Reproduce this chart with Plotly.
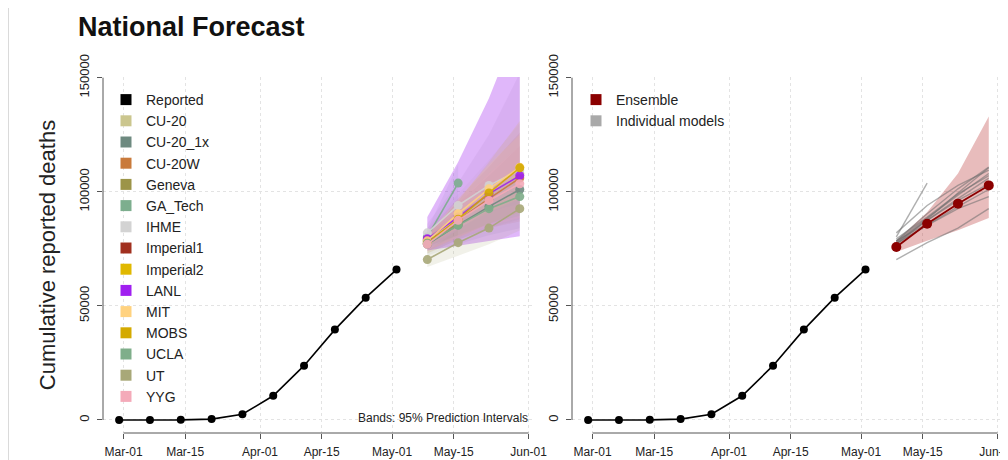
import plotly.graph_objects as go

# ---------------- data ----------------
REPORTED_DATES = ["2020-02-29", "2020-03-07", "2020-03-14", "2020-03-21", "2020-03-28",
                  "2020-04-04", "2020-04-11", "2020-04-18", "2020-04-25", "2020-05-02"]
REPORTED = [0, 20, 60, 400, 2500, 10600, 23800, 39600, 53600, 65900]

TARGET_DATES = ["2020-05-09", "2020-05-16", "2020-05-23", "2020-05-30"]

TICK_DATES = ["2020-03-01", "2020-03-15", "2020-04-01", "2020-04-15",
              "2020-05-01", "2020-05-15", "2020-06-01"]
TICK_LABELS = ["Mar-01", "Mar-15", "Apr-01", "Apr-15", "May-01", "May-15", "Jun-01"]
Y_TICKS = [0, 50000, 100000, 150000]

MODEL_NAMES = ["CU-20", "CU-20_1x", "CU-20W", "Geneva", "GA_Tech", "IHME", "Imperial1",
               "Imperial2", "LANL", "MIT", "MOBS", "UCLA", "UT", "YYG"]
MODEL_COLORS = ["#CBC68E", "#6E8A80", "#C97A3B", "#9C9448", "#7DAE8E", "#D3D3D3", "#A1301F",
                "#E0B800", "#A020F0", "#FFD27F", "#D4AA00", "#7FAE8A", "#A8A878", "#F4AAB9"]
BAND_ALPHA = [0.11, 0.09, 0.11, 0.11, 0.11, 0.25, 0.11, 0.11, 0.32, 0.15, 0.11, 0.13, 0.16, 0.15]

CU20_MED = [78500, 88500, 98500, 108000]
CU20_LO = [73000, 79000, 84000, 88000]
CU20_HI = [84000, 99000, 114000, 130000]

CU20_1X_MED = [77000, 85500, 93500, 101000]
CU20_1X_LO = [72000, 77000, 81000, 84000]
CU20_1X_HI = [82000, 95000, 107000, 120000]

CU20W_MED = [78000, 87500, 97000, 106000]
CU20W_LO = [73000, 79000, 84000, 87000]
CU20W_HI = [83000, 97000, 111000, 126000]

GENEVA_MED = [78500, 86000]
GENEVA_LO = [76000, 81000]
GENEVA_HI = [81000, 92000]

GATECH_MED = [80200, 103800]
GATECH_LO = [77000, 95000]
GATECH_HI = [83500, 112000]

IHME_MED = [82000, 94000, 102800, 109500]
IHME_LO = [79000, 86000, 91000, 95000]
IHME_HI = [86000, 104000, 125000, 152000]

IMPERIAL1_MED = [79000]
IMPERIAL1_LO = [75500]
IMPERIAL1_HI = [83000]

IMPERIAL2_MED = [78000]
IMPERIAL2_LO = [75000]
IMPERIAL2_HI = [82000]

LANL_MED = [79400, 88900, 99100, 107100]
LANL_LO = [74300, 76500, 78500, 80500]
LANL_HI = [89000, 113000, 141000, 175000]

MIT_MED = [78500, 90400, 101300, 110800]
MIT_LO = [76000, 84000, 91000, 97000]
MIT_HI = [81000, 97000, 112000, 125000]

MOBS_MED = [77500, 88000, 99500, 110500]
MOBS_LO = [74000, 80000, 86000, 91000]
MOBS_HI = [81000, 96000, 113000, 131000]

UCLA_MED = [77500, 85300, 92600, 97900]
UCLA_LO = [75000, 81000, 86000, 89500]
UCLA_HI = [80000, 90000, 99500, 107000]

UT_MED = [70300, 77700, 84100, 92600]
UT_LO = [67000, 72000, 77000, 83000]
UT_HI = [74000, 83500, 92000, 102000]

YYG_MED = [77000, 87500, 96200, 103500]
YYG_LO = [74000, 80000, 85000, 88500]
YYG_HI = [80500, 95000, 108000, 120000]

ENSEMBLE_MED = [75800, 86000, 94800, 102800]
ENSEMBLE_LO = [73600, 78500, 83200, 88500]
ENSEMBLE_HI = [78500, 91000, 108000, 133000]

MODEL_MED = [CU20_MED, CU20_1X_MED, CU20W_MED, GENEVA_MED, GATECH_MED, IHME_MED, IMPERIAL1_MED,
             IMPERIAL2_MED, LANL_MED, MIT_MED, MOBS_MED, UCLA_MED, UT_MED, YYG_MED]
MODEL_LO = [CU20_LO, CU20_1X_LO, CU20W_LO, GENEVA_LO, GATECH_LO, IHME_LO, IMPERIAL1_LO,
            IMPERIAL2_LO, LANL_LO, MIT_LO, MOBS_LO, UCLA_LO, UT_LO, YYG_LO]
MODEL_HI = [CU20_HI, CU20_1X_HI, CU20W_HI, GENEVA_HI, GATECH_HI, IHME_HI, IMPERIAL1_HI,
            IMPERIAL2_HI, LANL_HI, MIT_HI, MOBS_HI, UCLA_HI, UT_HI, YYG_HI]

ENSEMBLE_COLOR = "#8B0000"
INDIVIDUAL_COLOR = "#A9A9A9"

# ---------------- helpers ----------------
# page body has an 8px margin: the figure starts at (8, 8) of the window
OFF = 8
W, H = 1000, 452


def px_x(p):
    return (p - OFF) / W


def px_y(p):
    return (H - (p - OFF)) / H


def rgba(hex_color, a):
    h = hex_color.lstrip("#")
    r, g, b = int(h[0:2], 16), int(h[2:4], 16), int(h[4:6], 16)
    return f"rgba({r},{g},{b},{a})"


FONT = "Liberation Sans, Arial, sans-serif"
fig = go.Figure()

# ---------------- left panel ----------------
for name, col, a, med, lo, hi in zip(MODEL_NAMES, MODEL_COLORS, BAND_ALPHA, MODEL_MED, MODEL_LO, MODEL_HI):
    d = TARGET_DATES[:len(med)]
    if len(d) > 1:
        fig.add_trace(go.Scatter(
            x=d + d[::-1], y=hi + lo[::-1], fill="toself", fillcolor=rgba(col, a),
            line=dict(width=0), mode="lines", hoverinfo="skip", showlegend=False,
            legendgroup=name, xaxis="x", yaxis="y"))

for name, col, med in zip(MODEL_NAMES, MODEL_COLORS, MODEL_MED):
    d = TARGET_DATES[:len(med)]
    fig.add_trace(go.Scatter(
        x=d, y=med, mode="lines+markers", name=name, legendgroup=name, showlegend=False,
        line=dict(color=col, width=1.6), marker=dict(color=col, size=9), opacity=0.9,
        xaxis="x", yaxis="y"))

fig.add_trace(go.Scatter(
    x=REPORTED_DATES, y=REPORTED, mode="lines+markers", name="Reported", legendgroup="Reported",
    showlegend=False, line=dict(color="black", width=1.6), marker=dict(color="black", size=8),
    xaxis="x", yaxis="y"))

# legend entries (left)
fig.add_trace(go.Scatter(x=[None], y=[None], mode="markers", name="Reported", legendgroup="Reported",
                         marker=dict(symbol="square", size=11, color="black"),
                         legend="legend", xaxis="x", yaxis="y"))
for name, col in zip(MODEL_NAMES, MODEL_COLORS):
    fig.add_trace(go.Scatter(x=[None], y=[None], mode="markers", name=name, legendgroup=name,
                             marker=dict(symbol="square", size=11, color=col),
                             legend="legend", xaxis="x", yaxis="y"))

# ---------------- right panel ----------------
fig.add_trace(go.Scatter(
    x=TARGET_DATES + TARGET_DATES[::-1], y=ENSEMBLE_HI + ENSEMBLE_LO[::-1], fill="toself",
    fillcolor="rgba(178,34,34,0.30)", line=dict(width=0), mode="lines", hoverinfo="skip",
    showlegend=False, legendgroup="Ensemble", xaxis="x2", yaxis="y2"))

for name, med in zip(MODEL_NAMES, MODEL_MED):
    d = TARGET_DATES[:len(med)]
    fig.add_trace(go.Scatter(
        x=d, y=med, mode="lines", name=name, legendgroup="Individual models", showlegend=False,
        line=dict(color="rgba(110,110,110,0.55)", width=1.4), xaxis="x2", yaxis="y2"))

fig.add_trace(go.Scatter(
    x=REPORTED_DATES, y=REPORTED, mode="lines+markers", name="Reported", showlegend=False,
    line=dict(color="black", width=1.6), marker=dict(color="black", size=8),
    xaxis="x2", yaxis="y2"))

fig.add_trace(go.Scatter(
    x=TARGET_DATES, y=ENSEMBLE_MED, mode="lines+markers", name="Ensemble", legendgroup="Ensemble",
    showlegend=False, line=dict(color=ENSEMBLE_COLOR, width=1.8),
    marker=dict(color=ENSEMBLE_COLOR, size=10), xaxis="x2", yaxis="y2"))

fig.add_trace(go.Scatter(x=[None], y=[None], mode="markers", name="Ensemble", legendgroup="Ensemble",
                         marker=dict(symbol="square", size=11, color=ENSEMBLE_COLOR),
                         legend="legend2", xaxis="x2", yaxis="y2"))
fig.add_trace(go.Scatter(x=[None], y=[None], mode="markers", name="Individual models",
                         legendgroup="Individual models",
                         marker=dict(symbol="square", size=11, color=INDIVIDUAL_COLOR),
                         legend="legend2", xaxis="x2", yaxis="y2"))

# ---------------- axes ----------------
XRANGE = ["2020-02-25 08:00", "2020-06-02 11:00"]
YRANGE = [-5700, 150300]
ydom = [px_y(433), px_y(77)]

xcommon = dict(type="date", range=XRANGE, tickmode="array", tickvals=TICK_DATES,
               ticktext=TICK_LABELS, showline=False, ticks="outside", ticklen=5,
               tickcolor="#555", tickwidth=1, showgrid=True, gridcolor="#E3E3E3",
               griddash="dot", zeroline=False, tickfont=dict(size=12, color="#222", family=FONT),
               ticklabelstandoff=3, ticklabeloverflow="allow", automargin=False, fixedrange=True)
ycommon = dict(range=YRANGE, tickmode="array", tickvals=Y_TICKS,
               ticktext=[str(v) for v in Y_TICKS], tickangle=-90, showline=False,
               ticks="outside", ticklen=5, tickcolor="#555", tickwidth=1, showgrid=True,
               gridcolor="#E3E3E3", griddash="dot", zeroline=False,
               tickfont=dict(size=13, color="#222", family=FONT), ticklabelstandoff=3,
               domain=ydom, automargin=False, fixedrange=True)

fig.update_layout(
    xaxis=dict(domain=[px_x(103), px_x(535)], anchor="y", **xcommon),
    yaxis=dict(anchor="x", title=dict(text="Cumulative reported deaths",
                                      font=dict(size=22, color="#222", family=FONT), standoff=15),
               **ycommon),
    xaxis2=dict(domain=[px_x(572), px_x(1004)], anchor="y2", **xcommon),
    yaxis2=dict(anchor="x2", **ycommon),
)

# R-style axis lines spanning first to last tick
shapes = []
for xr, yr in (("x", "y"), ("x2", "y2")):
    shapes.append(dict(type="line", xref=f"{xr} domain", x0=0, x1=0, yref=yr, y0=0, y1=150000,
                       line=dict(color="#555", width=1)))
    shapes.append(dict(type="line", xref=xr, x0=TICK_DATES[0], x1=TICK_DATES[-1],
                       yref=f"{yr} domain", y0=0, y1=0, line=dict(color="#555", width=1)))
# faint frame line near the left edge
shapes.append(dict(type="line", xref="paper", yref="paper", x0=0.0005, x1=0.0005, y0=0, y1=1,
                   line=dict(color="#DADADA", width=1)))

fig.update_layout(
    width=W, height=H, margin=dict(l=0, r=0, t=0, b=0, autoexpand=False),
    paper_bgcolor="white", plot_bgcolor="white",
    font=dict(family=FONT, color="#222"),
    title=dict(text="National Forecast", x=px_x(78), xanchor="left", y=px_y(27), yanchor="middle",
               font=dict(size=27, color="#111", family=FONT, weight="bold")),
    shapes=shapes,
    legend=dict(x=px_x(106), y=px_y(84), xanchor="left", yanchor="top",
                bgcolor="rgba(0,0,0,0)", font=dict(size=14, color="#222", family=FONT),
                tracegroupgap=0),
    legend2=dict(x=px_x(576), y=px_y(84), xanchor="left", yanchor="top",
                 bgcolor="rgba(0,0,0,0)", font=dict(size=14, color="#222", family=FONT),
                 tracegroupgap=0),
    annotations=[dict(text="Bands: 95% Prediction Intervals", xref="paper", yref="paper",
                      x=px_x(530), y=px_y(418), xanchor="right", yanchor="middle",
                      showarrow=False, font=dict(size=12, color="#222", family=FONT))],
    hovermode="closest",
)

fig.write_html("out.html")
